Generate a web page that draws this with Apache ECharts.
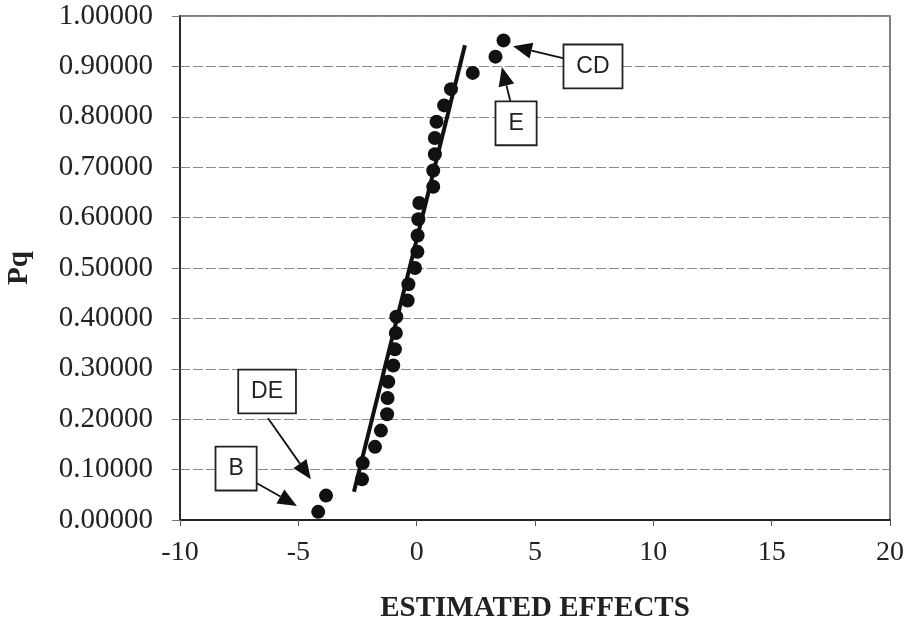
<!DOCTYPE html>
<html>
<head>
<meta charset="utf-8">
<script src="https://cdn.jsdelivr.net/npm/echarts@6/dist/echarts.min.js"></script>
<style>
html,body{margin:0;padding:0;background:#fff;}
#chart{width:911px;height:634px;}
</style>
</head>
<body>
<div id="chart"></div>
<script>
// Estimated effects (x) and normal probability Pq (y)
var effects = [-4.16, -3.83, -2.31, -2.28, -1.76, -1.51, -1.25, -1.23, -1.20, -0.99,
               -0.92, -0.88, -0.86, -0.38, -0.35, -0.07, 0.03, 0.04, 0.07, 0.11,
               0.70, 0.70, 0.77, 0.77, 0.84, 1.16, 1.45, 2.37, 3.33, 3.67];
var pq = [0.01613, 0.04839, 0.08065, 0.11290, 0.14516, 0.17742, 0.20968, 0.24194, 0.27419, 0.30645,
          0.33871, 0.37097, 0.40323, 0.43548, 0.46774, 0.50000, 0.53226, 0.56452, 0.59677, 0.62903,
          0.66129, 0.69355, 0.72581, 0.75806, 0.79032, 0.82258, 0.85484, 0.88710, 0.91935, 0.95161];
// Fitted straight line end points
var fitX = [-2.65, 2.04];
var fitY = [0.056, 0.942];
// Annotations: label, box centre (x, y), arrow start (x, y), arrow tip (x, y)
var annLabels = ['CD', 'E', 'DE', 'B'];
var annBoxX = [7.45, 4.20, -6.32, -7.63];
var annBoxY = [0.900, 0.787, 0.255, 0.102];
var annFromX = [6.31, 3.98, -6.28, -6.75];
var annFromY = [0.915, 0.827, 0.202, 0.073];
var annTipX = [4.07, 3.60, -4.47, -5.06];
var annTipY = [0.940, 0.899, 0.081, 0.028];
// Axis settings
var xMin = -10, xMax = 20, xStep = 5;
var yMin = 0, yMax = 1, yStep = 0.1;
var xTitle = 'ESTIMATED EFFECTS';
var yTitle = 'Pq';

var points = effects.map(function (v, i) { return [v, pq[i]]; });
var fitLine = fitX.map(function (v, i) { return [v, fitY[i]]; });
var annData = annLabels.map(function (l, i) {
  return [annBoxX[i], annBoxY[i], annFromX[i], annFromY[i], annTipX[i], annTipY[i], l];
});

var chart = echarts.init(document.getElementById('chart'), null, {renderer: 'canvas'});
var serif = '"Liberation Serif", "Times New Roman", serif';

function renderAnn(params, api) {
  var box = api.coord([api.value(0), api.value(1)]);
  var from = api.coord([api.value(2), api.value(3)]);
  var tip = api.coord([api.value(4), api.value(5)]);
  var label = annData[params.dataIndex][6];
  var dx = tip[0] - from[0], dy = tip[1] - from[1];
  var len = Math.sqrt(dx * dx + dy * dy);
  var ux = dx / len, uy = dy / len;
  var hl = 19, hw = 8;
  var bx = tip[0] - ux * hl, by = tip[1] - uy * hl;
  return {
    type: 'group',
    children: [
      {type: 'line', shape: {x1: from[0], y1: from[1], x2: bx, y2: by},
       style: {stroke: '#111', lineWidth: 1.8}},
      {type: 'polygon', shape: {points: [tip, [bx - uy * hw, by + ux * hw], [bx + uy * hw, by - ux * hw]]},
       style: {fill: '#111'}},
      {type: 'text', x: box[0], y: box[1],
       style: {text: label, font: '23px "Liberation Sans", Arial, sans-serif', fill: '#222',
               align: 'center', verticalAlign: 'middle',
               backgroundColor: '#fff', borderColor: '#222', borderWidth: 1.8,
               padding: [10, 12, 9, 12]}}
    ]
  };
}

chart.setOption({
  animation: false,
  backgroundColor: '#fff',
  grid: {left: 180, right: 21, top: 16, bottom: 114, containLabel: false, outerBoundsMode: 'none',
         show: true, borderColor: '#555', borderWidth: 1.5},
  xAxis: {
    type: 'value', min: xMin, max: xMax, interval: xStep,
    name: xTitle, nameLocation: 'middle', nameGap: 74,
    nameTextStyle: {fontFamily: serif, fontWeight: 'bold', fontSize: 29, color: '#222'},
    axisLine: {onZero: false, lineStyle: {color: '#222', width: 1.8}},
    axisTick: {show: true, inside: false, length: 6, lineStyle: {color: '#555'}},
    axisLabel: {fontFamily: serif, fontSize: 28, color: '#222', margin: 19},
    splitLine: {show: false}
  },
  yAxis: {
    type: 'value', min: yMin, max: yMax, interval: yStep,
    name: yTitle, nameLocation: 'middle', nameGap: 146, nameRotate: 90,
    nameTextStyle: {fontFamily: serif, fontWeight: 'bold', fontSize: 29, color: '#222'},
    axisLine: {onZero: false, lineStyle: {color: '#222', width: 1.8}},
    axisTick: {show: true, inside: false, length: 8, lineStyle: {color: '#777'}},
    axisLabel: {fontFamily: serif, fontSize: 29, color: '#222', margin: 27,
                formatter: function (v) { return v.toFixed(5); }},
    splitLine: {show: true, lineStyle: {color: '#8a8a8a', width: 1, type: [10, 3]}}
  },
  series: [
    {type: 'line', data: fitLine, symbol: 'none', lineStyle: {color: '#111', width: 4}, z: 3},
    {type: 'scatter', data: points, symbol: 'circle', symbolSize: 14,
     itemStyle: {color: '#111', opacity: 1}, z: 4},
    {type: 'custom', data: annData, renderItem: renderAnn, z: 5, silent: true}
  ]
});
</script>
</body>
</html>
